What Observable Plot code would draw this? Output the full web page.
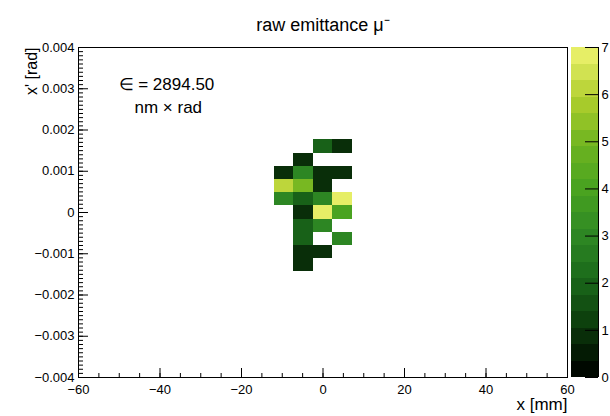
<!DOCTYPE html>
<html>
<head>
<meta charset="utf-8">
<script src="https://cdn.jsdelivr.net/npm/d3@7"></script>
<script src="https://cdn.jsdelivr.net/npm/@observablehq/plot@0.6"></script>
<style>
  body { margin: 0; background: #fff; }
  #chart { position: relative; width: 610px; height: 416px; font-family: "Liberation Sans", Arial, sans-serif; }
  #chart svg { position: absolute; top: 0; overflow: visible; background: transparent; }
</style>
</head>
<body>
<div id="chart"></div>
<script>
// Occupied phase-space bins: bin centre in x [mm], bin centre in x' [rad], entries
const cellX = [0, 4.8,
               -4.8,
               -9.6, -4.8, 0, 4.8,
               -9.6, -4.8, 0,
               -9.6, -4.8, 0, 4.8,
               -4.8, 0, 4.8,
               -4.8, 0,
               -4.8, 4.8,
               -4.8, 0,
               -4.8];
const cellY = [0.0016, 0.0016,
               0.00128,
               0.00096, 0.00096, 0.00096, 0.00096,
               0.00064, 0.00064, 0.00064,
               0.00032, 0.00032, 0.00032, 0.00032,
               0, 0, 0,
               -0.00032, -0.00032,
               -0.00064, -0.00064,
               -0.00096, -0.00096,
               -0.00128];
const cellCount = [2, 1,
                   1,
                   1, 3, 1, 1,
                   6, 5, 1,
                   3, 2, 3, 7,
                   1, 7, 4,
                   2, 3,
                   2, 3,
                   1, 1,
                   1];

// histogram binning: 25 x 25 bins over the axis ranges
const binW = 4.8;
const binH = 0.00032;

// axis ticks and labels
const xTicks = [-60, -40, -20, 0, 20, 40, 60];
const yTicks = [-0.004, -0.003, -0.002, -0.001, 0, 0.001, 0.002, 0.003, 0.004];
const zTicks = [0, 1, 2, 3, 4, 5, 6, 7];
const zMax = 7;
const nLevels = 20;

const titleText = "raw emittance μ⁻";
const xTitle = "x [mm]";
const yTitle = "x' [rad]";
const emitLines = ["∈ = 2894.50", "nm × rad"];

// dark-green to yellow palette
const paletteStops = ["#000800", "#0c3c0c", "#1a681a", "#2e8824", "#48a220", "#6eb420", "#aece2c", "#e6ee66"];

// ---- layout
const W = 610, H = 416;
const mL = 78, mR = 43, mT = 47, mB = 39;
const fw = W - mL - mR, fh = H - mT - mB;
const font = "'Liberation Sans', Arial, sans-serif";

const interp = d3.piecewise(d3.interpolateRgb, paletteStops);
const bandColors = d3.range(nLevels).map(k => interp(k / (nLevels - 1)));
const thresholds = d3.range(1, nLevels).map(k => k * zMax / nLevels);
const colorScale = {type: "threshold", domain: thresholds, range: bandColors};

const cells = cellX.map((x, i) => ({x, y: cellY[i], n: cellCount[i]}));

const xMinor = d3.range(-60, 60.001, 5);
const yMinor = d3.range(-40, 41).map(k => k / 10000);

const fmtY = d => d === 0 ? "0" : d3.format(".3f")(d);

const main = Plot.plot({
  width: W, height: H,
  marginLeft: mL, marginRight: mR, marginTop: mT, marginBottom: mB,
  style: {fontFamily: font, fontSize: "13px", color: "#000", background: "transparent"},
  x: {domain: [-60, 60], ticks: xTicks, tickSize: 0, tickPadding: 7, tickFormat: d3.format("d"), label: null},
  y: {domain: [-0.004, 0.004], ticks: yTicks, tickSize: 0, tickPadding: 4, tickFormat: fmtY, label: null},
  color: colorScale,
  marks: [
    Plot.rect(cells, {
      x1: d => d.x - binW / 2, x2: d => d.x + binW / 2,
      y1: d => d.y - binH / 2, y2: d => d.y + binH / 2,
      fill: "n", shapeRendering: "crispEdges"
    }),
    Plot.tickY(yMinor, {y: d => d, insetRight: fw - 5, stroke: "#000"}),
    Plot.tickY(yTicks, {y: d => d, insetRight: fw - 10, stroke: "#000"}),
    Plot.tickX(xMinor, {x: d => d, insetTop: fh - 4, stroke: "#000"}),
    Plot.tickX(xTicks, {x: d => d, insetTop: fh - 9, stroke: "#000"}),
    Plot.frame({stroke: "#000", strokeWidth: 1}),
    Plot.text([titleText], {text: d => d, frameAnchor: "top", dy: -29, fontSize: 18}),
    Plot.text([emitLines[0]], {text: d => d, frameAnchor: "top-left", textAnchor: "start", dx: 40, dy: 30, fontSize: 17}),
    Plot.text([emitLines[1]], {text: d => d, frameAnchor: "top-left", textAnchor: "start", dx: 56, dy: 53, fontSize: 17}),
    Plot.text([yTitle], {text: d => d, frameAnchor: "top-left", textAnchor: "end", rotate: -90, dx: -53, dy: 0, fontSize: 16}),
    Plot.text([xTitle], {text: d => d, frameAnchor: "bottom-right", textAnchor: "end", dy: 32, fontSize: 17})
  ]
});

// ---- colour bar
const bands = d3.range(nLevels).map(k => ({lo: k * zMax / nLevels, hi: (k + 1) * zMax / nLevels}));
const cbW = 40;
const bar = Plot.plot({
  width: cbW, height: H,
  marginLeft: 1, marginRight: 12, marginTop: mT, marginBottom: mB,
  style: {fontFamily: font, fontSize: "13px", color: "#000", background: "transparent"},
  x: {domain: [0, 1], axis: null},
  y: {domain: [0, zMax], ticks: zTicks, axis: "right", tickSize: 0, tickPadding: 3, tickFormat: d3.format("d"), label: null},
  color: colorScale,
  marks: [
    Plot.rect(bands, {x1: 0, x2: 1, y1: "lo", y2: "hi", fill: d => (d.lo + d.hi) / 2, shapeRendering: "crispEdges"}),
    Plot.tickY(zTicks, {y: d => d, insetLeft: 14, stroke: "#000"}),
    Plot.ruleX([1], {stroke: "#000"})
  ]
});
bar.style.left = (W - mR + 3) + "px";

const root = document.getElementById("chart");
main.style.left = "0px";
root.appendChild(main);
root.appendChild(bar);
</script>
</body>
</html>
